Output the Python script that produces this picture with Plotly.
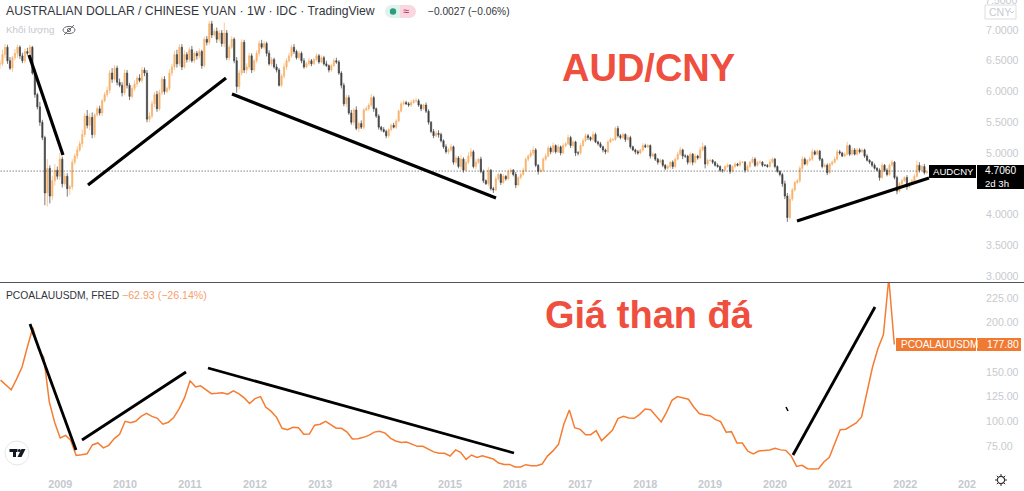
import pandas as pd
import plotly.graph_objects as go

# AUD/CNY, one bar every two weeks
closes = [
6.45,6.60,6.72,6.50,6.38,6.55,6.62,6.72,6.58,6.50,
6.65,6.62,6.72,6.30,5.95,5.75,5.50,5.25,4.35,4.75,
4.30,4.55,4.72,4.62,4.90,4.50,4.62,4.42,4.45,4.85,
4.95,5.05,5.15,5.30,5.60,5.45,5.58,5.30,5.62,5.72,
5.65,5.85,5.95,6.02,6.30,6.20,6.38,6.15,6.10,5.98,
6.30,6.10,5.92,6.05,6.12,6.22,6.18,6.35,6.30,5.55,
5.60,5.80,5.95,5.72,5.98,6.20,6.00,6.05,6.30,6.40,
6.60,6.45,6.72,6.40,6.60,6.52,6.68,6.50,6.62,6.58,
6.65,6.42,6.85,6.80,7.10,6.92,6.98,6.85,6.95,6.78,
6.95,6.55,6.72,6.85,6.50,6.08,6.30,6.80,6.35,6.40,
6.58,6.35,6.50,6.62,6.78,6.72,6.78,6.62,6.45,6.52,
6.40,6.35,6.10,6.25,6.40,6.50,6.58,6.72,6.65,6.55,
6.62,6.50,6.40,6.45,6.50,6.45,6.52,6.58,6.48,6.55,
6.45,6.42,6.35,6.42,6.50,6.48,6.30,6.10,5.80,5.90,
5.65,5.50,5.70,5.40,5.48,5.42,5.70,5.72,5.78,5.90,
5.72,5.60,5.42,5.38,5.35,5.28,5.38,5.45,5.42,5.52,
5.68,5.80,5.82,5.80,5.78,5.82,5.85,5.85,5.78,5.72,
5.78,5.68,5.50,5.35,5.28,5.32,5.30,5.20,5.10,5.02,
5.05,5.10,4.85,4.92,4.78,4.90,4.72,4.85,4.95,5.02,
4.78,4.85,4.90,4.70,4.55,4.50,4.72,4.42,4.40,4.58,
4.65,4.52,4.62,4.58,4.70,4.72,4.65,4.48,4.60,4.65,
4.72,4.90,4.95,5.00,5.05,4.80,4.70,4.72,4.90,4.95,
5.08,5.02,5.12,5.02,5.10,5.00,5.12,5.15,5.25,5.12,
5.18,5.00,5.00,5.12,5.20,5.28,5.25,5.22,5.30,5.18,
5.15,5.10,5.05,5.02,5.18,5.22,5.22,5.40,5.28,5.25,
5.30,5.22,5.25,5.10,5.05,5.02,5.00,5.05,5.12,5.10,
5.12,4.95,4.98,4.90,4.85,4.88,4.80,4.75,4.78,4.85,
4.78,4.90,4.98,5.05,4.95,4.95,4.85,4.98,4.85,4.95,
4.92,5.05,5.10,4.82,4.88,4.88,4.85,4.80,4.78,4.72,
4.72,4.78,4.80,4.70,4.78,4.82,4.80,4.85,4.85,4.72,
4.78,4.85,4.90,4.80,4.85,4.85,4.80,4.80,4.78,4.85,
4.90,4.78,4.70,4.65,4.50,4.30,3.95,4.25,4.40,4.52,
4.55,4.75,4.90,4.82,4.88,4.90,5.02,4.98,5.03,4.90,
4.78,4.80,4.68,4.82,4.85,4.90,5.02,5.00,4.95,4.98,
5.12,4.98,5.05,4.98,5.05,5.02,5.05,4.95,4.88,4.85,
4.80,4.75,4.72,4.60,4.80,4.72,4.65,4.80,4.85,4.60,
4.38,4.50,4.55,4.60,4.45,4.50,4.55,4.62,4.80,4.72,
4.78,4.68,4.706]

wick_up = [
.06,.08,.05,.04,.06,.03,.07,.04,.03,.05,
.05,.06,.04,.02,.05,.03,.08,.04,.03,.15,
.05,.08,.10,.06,.10,.04,.06,.05,.03,.05,
.04,.06,.05,.08,.05,.10,.06,.08,.03,.04,
.05,.03,.04,.06,.05,.08,.05,.04,.06,.05,
.06,.05,.04,.05,.06,.03,.06,.05,.04,.05,
.06,.05,.04,.06,.05,.04,.05,.03,.06,.05,
.06,.08,.05,.05,.07,.04,.04,.06,.03,.04,
.05,.03,.04,.05,.05,.05,.04,.06,.05,.05,
.17,.05,.04,.05,.03,.06,.05,.05,.04,.06,
.05,.04,.03,.05,.05,.06,.04,.03,.05,.04,
.03,.05,.03,.04,.06,.04,.05,.04,.05,.03,
.04,.03,.04,.03,.05,.03,.03,.04,.03,.04,
.03,.05,.02,.03,.04,.05,.03,.03,.04,.05,
.04,.05,.03,.06,.03,.05,.03,.04,.03,.06,
.03,.02,.03,.02,.04,.03,.02,.03,.04,.03,
.03,.04,.04,.03,.03,.04,.03,.05,.03,.02,
.02,.04,.03,.02,.04,.03,.05,.03,.02,.04,
.03,.05,.02,.04,.03,.06,.03,.05,.06,.06,
.03,.05,.02,.04,.03,.02,.05,.02,.03,.04,
.03,.02,.04,.02,.03,.03,.02,.04,.02,.03,
.04,.03,.03,.05,.06,.03,.02,.03,.03,.04,
.04,.03,.05,.02,.04,.02,.04,.03,.05,.03,
.03,.02,.03,.04,.04,.04,.03,.02,.05,.03,
.02,.03,.02,.02,.03,.03,.02,.03,.04,.03,
.03,.02,.04,.03,.02,.02,.03,.02,.04,.03,
.03,.02,.03,.02,.02,.03,.02,.02,.03,.02,
.03,.03,.04,.05,.02,.03,.02,.03,.02,.04,
.02,.05,.07,.03,.03,.02,.02,.02,.03,.02,
.02,.02,.03,.02,.02,.03,.02,.03,.02,.02,
.03,.02,.04,.03,.02,.03,.02,.02,.02,.05,
.03,.02,.02,.02,.03,.05,.05,.08,.03,.03,
.03,.04,.05,.03,.02,.04,.05,.03,.03,.02,
.02,.03,.03,.02,.03,.04,.04,.03,.02,.03,
.06,.02,.04,.03,.03,.03,.02,.02,.03,.02,
.02,.03,.02,.03,.04,.02,.03,.03,.04,.02,
.03,.03,.03,.02,.04,.03,.03,.04,.08,.05,
.03,.04,.02]

wick_down = [
.08,.04,.06,.05,.03,.06,.04,.07,.05,.04,
.04,.03,.05,.03,.05,.04,.06,.04,.20,.22,
.12,.06,.08,.05,.06,.06,.04,.13,.10,.05,
.04,.05,.03,.06,.04,.05,.08,.06,.05,.03,
.04,.05,.03,.04,.05,.06,.04,.05,.03,.06,
.04,.05,.06,.03,.04,.05,.03,.04,.05,.05,
.05,.04,.06,.05,.03,.04,.05,.03,.04,.05,
.05,.06,.04,.05,.03,.05,.04,.03,.04,.06,
.04,.05,.03,.05,.04,.05,.03,.06,.04,.05,
.06,.04,.05,.03,.04,.10,.05,.04,.05,.06,
.04,.05,.03,.04,.05,.03,.04,.05,.03,.04,
.03,.04,.02,.03,.04,.05,.03,.03,.04,.03,
.03,.04,.03,.02,.03,.04,.02,.03,.03,.02,
.03,.02,.04,.03,.02,.03,.03,.05,.04,.05,
.03,.04,.05,.03,.06,.03,.04,.02,.03,.03,
.05,.03,.04,.03,.02,.04,.03,.03,.02,.03,
.02,.02,.03,.02,.03,.03,.02,.03,.03,.04,
.02,.03,.04,.03,.04,.02,.05,.03,.03,.03,
.04,.03,.04,.03,.03,.05,.04,.02,.03,.04,
.03,.05,.03,.03,.04,.02,.04,.03,.05,.02,
.03,.04,.02,.03,.02,.04,.03,.05,.02,.03,
.02,.03,.04,.03,.04,.03,.05,.02,.03,.03,
.02,.04,.02,.03,.02,.04,.02,.03,.02,.04,
.03,.05,.04,.03,.02,.02,.04,.03,.03,.02,
.03,.02,.04,.04,.02,.02,.03,.02,.03,.03,
.02,.04,.03,.03,.02,.04,.03,.02,.03,.02,
.02,.04,.02,.03,.04,.02,.03,.03,.02,.03,
.04,.02,.02,.02,.05,.03,.04,.03,.05,.02,
.03,.02,.02,.07,.03,.02,.03,.02,.02,.03,
.04,.02,.02,.04,.02,.03,.02,.02,.02,.04,
.02,.02,.02,.03,.02,.03,.03,.02,.02,.02,
.02,.03,.02,.03,.05,.05,.07,.03,.03,.03,
.02,.04,.03,.02,.03,.02,.03,.02,.02,.03,
.03,.02,.04,.02,.03,.02,.02,.03,.02,.02,
.02,.03,.02,.02,.02,.03,.02,.03,.02,.03,
.03,.02,.02,.05,.02,.03,.03,.02,.02,.03,
.05,.02,.03,.02,.05,.02,.02,.03,.02,.04,
.02,.03,.02]

# PCOALAUUSDM, monthly from Feb 2008
coal = [
141.7,137,132,142.7,155,175.5,195,173,164.7,119.6,99,83,85.7,80.7,65.4,66,67,76,78,
73,75.6,82.4,86.8,100,98.6,100,105,108,105,103,97,99,103.7,112.8,124,141,134.9,136,131.5,
128,128.4,129,127.4,130.8,128,123.7,118,123,125,114.5,110,104,92.9,91.5,93.9,93.5,86.8,87,96,
97,100,97,93,92.9,89,82,82.4,83.7,85.7,89,89.8,88,82.7,80,78.6,79,77,74.6,74.6,
72,69,67.5,67.5,64.8,71,68.5,61.4,65.8,63.4,65,63.7,61.7,57.6,56.3,56.3,53.6,53.6,56,55,
55,56.6,64.7,70,76.6,97,111.5,93.5,91.8,86.4,86.4,90.5,80.3,85.7,90.8,102.7,105,103.4,103,107,
112.5,111.8,105.4,99.3,109,121.3,125,123.7,122.3,114.5,107.8,106.4,105.7,101.7,99.6,89,89.5,78,78,69.8,
67,69.8,70.5,70.8,72.5,71,70.5,64.7,54.2,55.3,51.9,51.5,51.9,58.7,63.4,77.3,91.5,92,94.9,98.3,
104.4,129.8,154.5,173.8,188,245,177.8]

price_ticks = [3, 3.5, 4, 4.5, 5, 5.5, 6, 6.5, 7]
coal_ticks = [75, 100, 125, 150, 200, 225]
years = list(range(2009, 2024))
last_price = 4.706
last_coal = 177.80

W, H = 1024, 491
PLOT_R = 976
px = lambda x: x / W
py = lambda y: 1 - y / H

dates = pd.date_range("2008-01-29", periods=len(closes), freq="14D")
opens = [closes[0]] + closes[:-1]
highs = [max(o, c) + w for o, c, w in zip(opens, closes, wick_up)]
lows = [min(o, c) - w for o, c, w in zip(opens, closes, wick_down)]
coal_dates = pd.date_range("2008-02-01", periods=len(coal), freq="MS")

UP, DOWN = "#f6b26b", "#404040"
fig = go.Figure()
fig.add_trace(go.Candlestick(
    x=dates, open=opens, high=highs, low=lows, close=closes, xaxis="x", yaxis="y",
    whiskerwidth=0, showlegend=False,
    increasing=dict(line=dict(color=UP, width=0.7), fillcolor=UP),
    decreasing=dict(line=dict(color=DOWN, width=0.7), fillcolor=DOWN)))
fig.add_trace(go.Scatter(
    x=coal_dates, y=coal, mode="lines", xaxis="x2", yaxis="y2", showlegend=False,
    line=dict(color="#f57c32", width=1.5)))

GREY = "#c8cad0"
FONT = "Liberation Sans"
shapes, ann = [], []

def line(x0, y0, x1, y1, color="black", width=3):
    shapes.append(dict(type="line", xref="paper", yref="paper", x0=px(x0), y0=py(y0), x1=px(x1), y1=py(y1),
                       line=dict(color=color, width=width), layer="above"))

def rect(x0, y0, x1, y1, fill, border=None):
    shapes.append(dict(type="rect", xref="paper", yref="paper", x0=px(x0), y0=py(y0), x1=px(x1), y1=py(y1),
                       fillcolor=fill, line=dict(color=border or fill, width=1 if border else 0), layer="above"))

def circle(cx, cy, rx, ry=None, fill="rgba(0,0,0,0)", border=None, width=1):
    ry = rx if ry is None else ry
    shapes.append(dict(type="circle", xref="paper", yref="paper", x0=px(cx-rx), y0=py(cy-ry), x1=px(cx+rx), y1=py(cy+ry),
                       fillcolor=fill, line=dict(color=border or fill, width=width if border else 0), layer="above"))

def poly(pts, fill):
    d = "M " + " L ".join(f"{px(a):.5f},{py(b):.5f}" for a, b in pts) + " Z"
    shapes.append(dict(type="path", xref="paper", yref="paper", path=d, fillcolor=fill, line=dict(width=0), layer="above"))

def text(x, y, s, size=12, color="#333", anchor="left", family=FONT):
    ann.append(dict(xref="paper", yref="paper", x=px(x), y=py(y), text=s, showarrow=False, xanchor=anchor, yanchor="middle",
                    font=dict(size=size, color=color, family=family), borderpad=0, borderwidth=0))

# last-value dotted line, in data terms
shapes.append(dict(type="line", xref="x", yref="y", x0=dates[0] - pd.Timedelta(days=30), x1=dates[-1], y0=last_price, y1=last_price,
                   line=dict(color="#444", width=1, dash="1px,2px"), layer="above"))

# drawn trend strokes
for seg in [(29,55,63,155),(88,185,226,78),(232,94,496,198),(797,221,929,178)]:
    line(*seg, width=3.2)
for seg in [(30,324,76,450),(82,440,186,372),(208,368,514,453),(793,455,875,307)]:
    line(*seg, width=2.8)
line(786,407,788,411, width=1.5)

# pane separator, clip of the last year label
line(0,282.5,1024,282.5, color="#50535e", width=1)
rect(976,472,1024,491,"white")

# big labels
text(562,68,"<b>AUD/CNY</b>",38,"#ef4f3e")
text(545,315,"<b>Giá than đá</b>",38,"#ef4f3e")

# header
text(6,11.5,"AUSTRALIAN DOLLAR / CHINESE YUAN · 1W · IDC · TradingView",12.2,"#33353c")
text(6,30,"Khối lượng",9.8,"#c6c8cf")
circle(69,30,6,3.6,border="#6b6d75",width=1)
circle(69,30,1.6,border="#6b6d75",width=1)
line(64,35,74,25,color="#6b6d75",width=1)
circle(391.5,11.5,6.5,fill="#dff2ec")
rect(391.5,5,400,18,"#dff2ec")
rect(400,5,409.5,18,"#f8d7e1")
circle(409.5,11.5,6.5,fill="#f8d7e1")
circle(393,11.5,3.2,fill="#2a9d7c")
text(403,11.5,"≈",11,"#c2185b")
text(428,12,"−0.0027 (−0.06%)",10.2,"#33353c")

# right-hand items
rect(985,5,1016,19,"white","#dcdde1")
text(989,12,"CNY",10.5,GREY)
line(1010,11,1012,13,color=GREY,width=1); line(1012,13,1014,11,color=GREY,width=1)
text(985,0.5,"7.5000",10.6,GREY)
rect(929,165,976,178,"black")
text(933,171.5,"AUDCNY",9.6,"white")
rect(977,165,1024,189,"black")
text(985,170.8,f"{last_price:.4f}",10.2,"white")
text(985,183,"2d 3h",9.6,"white")
rect(896,338,976,351,"#f07a31")
text(901,344.5,"PCOALAUUSDM",10,"white")
rect(977,338,1021,351,"#f07a31")
text(987,344.5,f"{last_coal:.2f}",10.4,"white")

# lower-pane legend
text(6,295,"PCOALAUUSDM, FRED",10.3,"#33353c")
text(122,295,"−62.93 (−26.14%)",10.6,"#f5a06f")

# TV logo
circle(17,453,12,fill="white",border="#e6e7ea",width=1)
poly([(9.5,449),(17.5,449),(17.5,452),(16,452),(16,457),(13,457),(13,452),(9.5,452)],"#131722")
circle(19.3,450.5,1.5,fill="#131722")
poly([(17.5,457),(21.5,449),(25.5,449),(21.5,457)],"#131722")

# settings gear
circle(1001,480,3.6,border="#333",width=1.2)
for a,b,c,d in [(1001,474,1001,476),(1001,484,1001,486),(995,480,997,480),(1005,480,1007,480),
                (996.8,475.8,998.2,477.2),(1003.8,482.8,1005.2,484.2),(996.8,484.2,998.2,482.8),(1003.8,477.2,1005.2,475.8)]:
    line(a,b,c,d,color="#333",width=1)

x_range = [pd.Timestamp("2008-01-29"), pd.Timestamp("2023-02-03")]
tick_common = dict(showgrid=False, zeroline=False, showline=False, automargin=False, tickmode="array")
fig.update_layout(
    width=W, height=H, margin=dict(l=0, r=0, t=0, b=0), paper_bgcolor="white", plot_bgcolor="white",
    showlegend=False, hovermode=False, shapes=shapes, annotations=ann, font=dict(family=FONT),
    xaxis=dict(domain=[0, PLOT_R/W], range=x_range, anchor="y", showticklabels=False, showgrid=False, zeroline=False,
               rangeslider=dict(visible=False), ticks="", showline=False, automargin=False),
    xaxis2=dict(domain=[0, PLOT_R/W], range=x_range, anchor="y2", matches="x",
                tickvals=[f"{y}-01-01" for y in years], ticktext=[f"<b>{y}</b>" for y in years],
                tickfont=dict(size=10.8, color="#c6c8ce", family=FONT), ticks="outside", ticklen=4, tickcolor="rgba(0,0,0,0)", **tick_common),
    yaxis=dict(domain=[py(282), 1], range=[2.902, 7.488], side="right", anchor="x",
               tickvals=price_ticks, ticktext=[f"{v:.4f}" for v in price_ticks],
               tickfont=dict(size=10.6, color=GREY, family=FONT), ticks="outside", ticklen=7, tickcolor="rgba(0,0,0,0)", **tick_common),
    yaxis2=dict(domain=[py(470), py(283)], range=[50.6, 240.2], side="right", anchor="x2",
                tickvals=coal_ticks, ticktext=[f"{v:.2f}" for v in coal_ticks],
                tickfont=dict(size=10.6, color=GREY, family=FONT), ticks="outside", ticklen=7, tickcolor="rgba(0,0,0,0)", **tick_common),
)
fig.write_html("out.html", config=dict(displayModeBar=False), post_script="document.body.style.margin='0';document.body.style.overflow='hidden';")
